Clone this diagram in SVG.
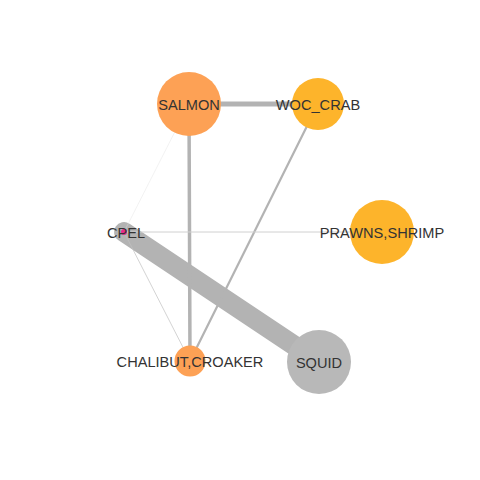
<svg xmlns="http://www.w3.org/2000/svg" width="480" height="480" viewBox="0 0 480 480">
  <style>
    .edge { stroke: #b3b3b3; stroke-linecap: round; fill: none; }
    .lbl { font-family: "Liberation Sans", Arial, sans-serif; font-size: 14.6px; fill: #333333; text-anchor: middle; dominant-baseline: central; }
    .orange { fill: #fda155; }
    .gold { fill: #fdb42b; }
    .grey { fill: #b8b8b8; }
    .pink { fill: #e7298a; }
  </style>
  <rect width="480" height="480" fill="#ffffff"/>
  <g id="edges">
    <line class="edge" x1="124" y1="232" x2="319" y2="362" style="stroke-width:20"/>
    <line class="edge" x1="189" y1="104" x2="318" y2="104" style="stroke-width:5"/>
    <line class="edge" x1="189" y1="104" x2="190" y2="361" style="stroke-width:3.5"/>
    <line class="edge" x1="318" y1="104" x2="190" y2="361" style="stroke-width:2.2"/>
    <line class="edge" x1="124" y1="232" x2="382" y2="232" style="stroke-width:1;stroke:#d0d0d0"/>
    <line class="edge" x1="124" y1="232" x2="190" y2="361" style="stroke-width:0.7;stroke:#c0c0c0"/>
    <line class="edge" x1="124" y1="232" x2="189" y2="104" style="stroke-width:0.4;stroke:#dddddd"/>
  </g>
  <g id="SALMON">
    <circle class="orange" cx="189" cy="104" r="32"/>
    <text class="lbl" x="189" y="104.5">SALMON</text>
  </g>
  <g id="WOC_CRAB">
    <circle class="gold" cx="318" cy="104" r="26"/>
    <text class="lbl" x="318" y="104.5">WOC_CRAB</text>
  </g>
  <g id="PRAWNS_SHRIMP">
    <circle class="gold" cx="382" cy="232" r="32"/>
    <text class="lbl" x="382" y="233">PRAWNS,SHRIMP</text>
  </g>
  <g id="CPEL">
    <circle class="pink" cx="124" cy="232" r="3"/>
    <text class="lbl" x="126" y="233">CPEL</text>
  </g>
  <g id="CHALIBUT_CROAKER">
    <circle class="orange" cx="190" cy="361" r="15.5"/>
    <text class="lbl" x="190" y="361.5">CHALIBUT,CROAKER</text>
  </g>
  <g id="SQUID">
    <circle class="grey" cx="319" cy="362" r="32"/>
    <text class="lbl" x="319" y="362.5">SQUID</text>
  </g>
</svg>
